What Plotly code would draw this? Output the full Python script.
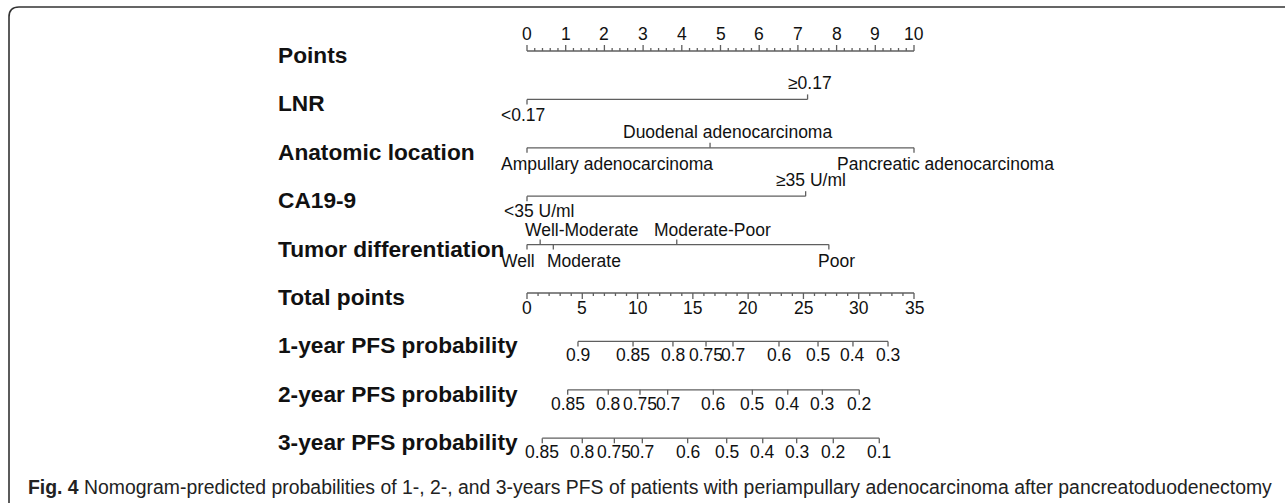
import plotly.graph_objects as go

# ---------------- data ----------------
row_names = ["Points", "LNR", "Anatomic location", "CA19-9", "Tumor differentiation",
             "Total points", "1-year PFS probability", "2-year PFS probability",
             "3-year PFS probability"]

points_ticks = list(range(0, 11))
total_ticks = list(range(0, 36, 5))

lnr_labels = ["<0.17", "≥0.17"]
lnr_points = [0, 7.25]

anat_labels = ["Ampullary adenocarcinoma", "Duodenal adenocarcinoma", "Pancreatic adenocarcinoma"]
anat_points = [0, 4.73, 10]

ca_labels = ["<35 U/ml", "≥35 U/ml"]
ca_points = [0, 7.2]

tumor_labels = ["Well", "Well-Moderate", "Moderate", "Moderate-Poor", "Poor"]
tumor_points = [0, 0.34, 0.68, 3.87, 7.8]

pfs1_labels = ["0.9", "0.85", "0.8", "0.75", "0.7", "0.6", "0.5", "0.4", "0.3"]
pfs1_total = [4.61, 9.59, 13.2, 16.19, 18.63, 22.79, 26.32, 29.48, 32.65]

pfs2_labels = ["0.85", "0.8", "0.75", "0.7", "0.6", "0.5", "0.4", "0.3", "0.2"]
pfs2_total = [3.68, 7.35, 10.22, 12.72, 16.85, 20.38, 23.58, 26.71, 30.05]

pfs3_labels = ["0.85", "0.8", "0.75", "0.7", "0.6", "0.5", "0.4", "0.3", "0.2", "0.1"]
pfs3_total = [1.38, 5.0, 7.9, 10.43, 14.53, 18.06, 21.32, 24.39, 27.70, 31.86]

caption_bold = "Fig. 4"
caption_text = ("Nomogram-predicted probabilities of 1-, 2-, and 3-years PFS of patients "
                "with periampullary adenocarcinoma after pancreatoduodenectomy")

# ---------------- layout constants ----------------
W, H = 1285, 503
MAX_POINTS, MAX_TOTAL = 10, 35
X0_PX, PX_PER_POINT = 527, 38.7
ROW0_PX, ROW_PX = 51, 48.4

xa = -X0_PX / PX_PER_POINT
xb = xa + W / PX_PER_POINT
ya = -ROW0_PX / ROW_PX
yb = (H - ROW0_PX) / ROW_PX

LINE_COLOR = "#5f5f5f"
TXT = "#111111"
TICK_FONT = dict(family="Liberation Sans, Arial, sans-serif", size=17.5, color=TXT)
ROW_FONT = dict(family="Liberation Sans, Arial, sans-serif", size=22.7, color=TXT)


def px(v):
    return v / ROW_PX


def tot2pts(t):
    return t * MAX_POINTS / MAX_TOTAL


fig = go.Figure()
annotations = []


def add_axis(row, xs_major, major_len, xs_minor=(), minor_len=0, direction=1):
    """direction=-1 => ticks up, +1 => ticks down (screen)."""
    lo, hi = min(xs_major), max(xs_major)
    X, Y = [lo, hi, None], [row, row, None]
    for x in xs_minor:
        X += [x, x, None]
        Y += [row, row + direction * px(minor_len), None]
    for x in xs_major:
        X += [x, x, None]
        Y += [row, row + direction * px(major_len), None]
    fig.add_trace(go.Scatter(x=X, y=Y, mode="lines", hoverinfo="skip", showlegend=False,
                             line=dict(color=LINE_COLOR, width=1.3)))


def add_label(x, row, text, yshift, xshift=0):
    annotations.append(dict(x=x, y=row, xref="x", yref="y", text=text, showarrow=False,
                            xanchor="center", yanchor="middle", xshift=xshift, yshift=yshift,
                            font=TICK_FONT))


# Points axis (row 0)
minor = [i / 5 for i in range(0, 51) if i % 5 != 0]
add_axis(0, points_ticks, 6, minor, 3, direction=-1)
for t in points_ticks:
    add_label(t, 0, str(t), 17.5)


# categorical variable axes
def var_axis(row, labels, pts, sides, xshifts, up=16, down=-16):
    X, Y = [min(pts), max(pts), None], [row, row, None]
    for p, s in zip(pts, sides):
        d = -1 if s == "above" else 1
        X += [p, p, None]
        Y += [row, row + d * px(5), None]
    fig.add_trace(go.Scatter(x=X, y=Y, mode="lines", hoverinfo="skip", showlegend=False,
                             line=dict(color=LINE_COLOR, width=1.3)))
    for lab, p, s, xs in zip(labels, pts, sides, xshifts):
        add_label(p, row, lab, up if s == "above" else down, xs)


var_axis(1, lnr_labels, lnr_points, ["below", "above"], [-4, 2])
var_axis(2, anat_labels, anat_points, ["below", "above", "below"], [80, 17, 31])
var_axis(3, ca_labels, ca_points, ["below", "above"], [12, 5], down=-14.5)
var_axis(4, tumor_labels, tumor_points, ["below", "above", "below", "above", "below"],
         [-9, 41, 31, 36, 8], up=15)

# Total points axis (row 5)
tmajor = [tot2pts(t) for t in total_ticks]
tminor = [tot2pts(t) for t in range(0, 36) if t % 5 != 0]
add_axis(5, tmajor, 6, tminor, 3, direction=1)
for t in total_ticks:
    add_label(tot2pts(t), 5, str(t), -15)

# probability axes
for row, labs, tots in [(6, pfs1_labels, pfs1_total), (7, pfs2_labels, pfs2_total),
                        (8, pfs3_labels, pfs3_total)]:
    xs = [tot2pts(t) for t in tots]
    add_axis(row, xs, 5, direction=1)
    for lab, x in zip(labs, xs):
        add_label(x, row, lab, -14)

# row labels
for i, name in enumerate(row_names):
    annotations.append(dict(x=276 / W, y=i, xref="paper", yref="y", text="<b>%s</b>" % name,
                            showarrow=False, xanchor="left", yanchor="middle", yshift=-4,
                            font=ROW_FONT))

# caption
annotations.append(dict(x=26 / W, y=1 - 487 / H, xref="paper", yref="paper",
                        text="<b>%s</b> %s" % (caption_bold, caption_text), showarrow=False,
                        xanchor="left", yanchor="middle",
                        font=dict(family="Liberation Sans, Arial, sans-serif",
                                  size=19.4, color="#222222")))

# frame (top + left edges with a rounded corner)
fx, fy, r = 9 / W, 1 - 7 / H, 10
frame_path = ("M %f,0 L %f,%f Q %f,%f %f,%f L 1,%f" %
              (fx, fx, fy - r / H, fx, fy, fx + r / W, fy, fy))

fig.update_layout(
    width=W, height=H, margin=dict(l=0, r=0, t=0, b=0),
    paper_bgcolor="white", plot_bgcolor="white",
    xaxis=dict(range=[xa, xb], visible=False, fixedrange=True),
    yaxis=dict(range=[yb, ya], visible=False, fixedrange=True),
    annotations=annotations,
    shapes=[dict(type="path", xref="paper", yref="paper", path=frame_path,
                 line=dict(color="#333333", width=1.6))],
    showlegend=False,
)

fig.write_html("out.html")
